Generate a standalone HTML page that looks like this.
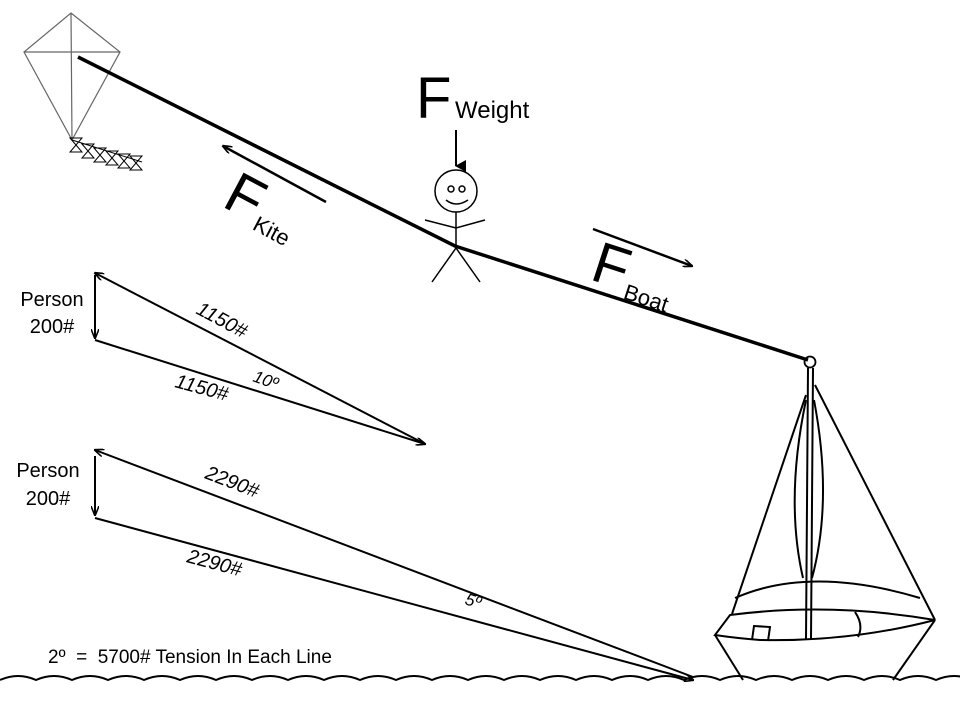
<!DOCTYPE html>
<html><head><meta charset="utf-8"><style>body{margin:0;background:#fff}svg{display:block}text{font-family:"Liberation Sans",sans-serif;fill:#000}</style></head><body>
<svg width="960" height="720" viewBox="0 0 960 720" xmlns="http://www.w3.org/2000/svg">
<defs><marker id="a" markerWidth="10" markerHeight="8" refX="9" refY="4" orient="auto" markerUnits="userSpaceOnUse"><path d="M0,0 L10,4 L0,8" fill="none" stroke="#000" stroke-width="1.6"/></marker>
<marker id="t" markerWidth="12" markerHeight="12" refX="6" refY="10" orient="auto" markerUnits="userSpaceOnUse"><path d="M0,0 L12,0 L6,11z" fill="#000"/></marker></defs>
<!-- kite -->
<g stroke="#666" stroke-width="1.2" fill="none"><path d="M71,13 L120,52 L72,140 L24,52 Z M71,13 L72,140 M24,52 L120,52"/></g>
<g stroke="#000" stroke-width="1" fill="none">
<path d="M72,140 L142,162"/>
<path d="M70,138 l12,14 h-12 l12,-14z M82,144 l12,14 h-12 l12,-14z M94,148 l12,14 h-12 l12,-14z M106,151 l12,14 h-12 l12,-14z M118,154 l12,14 h-12 l12,-14z M130,156 l12,14 h-12 l12,-14z"/></g>
<!-- rope -->
<polyline points="78,57 455,246 808,360" fill="none" stroke="#000" stroke-width="3.5"/>
<!-- person -->
<g stroke="#000" stroke-width="1.5" fill="none"><circle cx="456" cy="191" r="21"/><circle cx="451" cy="189" r="3"/><circle cx="462" cy="189" r="3"/><path d="M446,200 q10,8 22,0"/><path d="M456,212 V248 M425,220 L456,228 L485,220 M456,248 L432,282 M456,248 L480,282"/></g>
<line x1="456" y1="130" x2="456" y2="166" stroke="#000" stroke-width="2" marker-end="url(#t)"/>
<text x="416" y="118" font-size="58">F</text><text x="455" y="118" font-size="24">Weight</text>
<!-- F kite -->
<line x1="326" y1="202" x2="223" y2="146" stroke="#000" stroke-width="2.5" marker-end="url(#a)"/>
<g transform="rotate(28 230 205)"><text x="222" y="210" font-size="58">F</text><text x="260" y="216" font-size="22">Kite</text></g>
<!-- F boat -->
<line x1="593" y1="229" x2="692" y2="266" stroke="#000" stroke-width="2.5" marker-end="url(#a)"/>
<g transform="rotate(18 600 270)"><text x="592" y="282" font-size="58">F</text><text x="630" y="290" font-size="22">Boat</text></g>
<!-- triangle 1 -->
<g stroke="#000" stroke-width="2" fill="none"><line x1="95" y1="275" x2="95" y2="338" marker-end="url(#a)"/><line x1="425" y1="444" x2="95" y2="273" marker-end="url(#a)"/><line x1="95" y1="340" x2="425" y2="444" marker-end="url(#a)"/></g>
<text x="52" y="306" font-size="20" text-anchor="middle">Person</text><text x="52" y="333" font-size="20" text-anchor="middle">200#</text>
<text transform="translate(195,313) rotate(28)" font-size="20" font-style="italic">1150#</text>
<text transform="translate(174,387) rotate(15)" font-size="20" font-style="italic">1150#</text>
<text transform="translate(252,381) rotate(20)" font-size="17" font-style="italic">10º</text>
<!-- triangle 2 -->
<g stroke="#000" stroke-width="2" fill="none"><line x1="95" y1="456" x2="95" y2="515" marker-end="url(#a)"/><line x1="693" y1="677" x2="95" y2="450" marker-end="url(#a)"/><line x1="95" y1="518" x2="693" y2="680" marker-end="url(#a)"/></g>
<text x="48" y="477" font-size="20" text-anchor="middle">Person</text><text x="48" y="505" font-size="20" text-anchor="middle">200#</text>
<text transform="translate(204,478) rotate(21)" font-size="20" font-style="italic">2290#</text>
<text transform="translate(186,562) rotate(15)" font-size="20" font-style="italic">2290#</text>
<text transform="translate(464,604) rotate(17)" font-size="17" font-style="italic">5º</text>
<text x="48" y="663" font-size="19" xml:space="preserve">2º  =  5700# Tension In Each Line</text>
<!-- boat -->
<g stroke="#000" stroke-width="2" fill="none">
<circle cx="810" cy="362" r="5.5" stroke-width="1.8"/>
<path d="M808,368 L806,640 M813,368 L811,640"/>
<path d="M806,395 L732,614 M815,385 L935,620"/>
<path d="M806,400 Q785,500 803,578 M814,400 Q833,500 812,578"/>
<path d="M735,598 Q810,565 920,598"/>
<path d="M730,615 Q830,602 935,620 Q850,642 760,640 Q735,638 715,635 Z"/>
<path d="M752,640 L754,626 L770,627 L768,641 M855,612 Q864,625 858,637"/>
<path d="M715,635 L743,680 M935,620 L893,680"/>
</g>
<!-- waves -->
<path d="M0,680 q18,-8 36,0 q18,-8 36,0 q18,-8 36,0 q18,-8 36,0 q18,-8 36,0 q18,-8 36,0 q18,-8 36,0 q18,-8 36,0 q18,-8 36,0 q18,-8 36,0 q18,-8 36,0 q18,-8 36,0 q18,-8 36,0 q18,-8 36,0 q18,-8 36,0 q18,-8 36,0 q18,-8 36,0 q18,-8 36,0 q18,-8 36,0 q18,-8 36,0 q18,-8 36,0 q18,-8 36,0 q18,-8 36,0 q18,-8 36,0 q18,-8 36,0 q18,-8 36,0 q18,-8 36,0" fill="none" stroke="#000" stroke-width="2"/>
</svg>
</body></html>
